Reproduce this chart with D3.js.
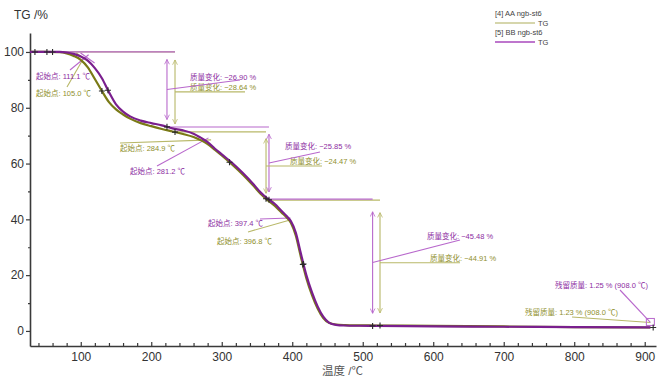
<!DOCTYPE html>
<html><head><meta charset="utf-8">
<script src="https://cdn.jsdelivr.net/npm/d3@7"></script>
<style>
body{margin:0;background:#fff}
svg{display:block}
text{font-family:"Liberation Sans",Arial,"Noto Sans CJK SC",sans-serif}
</style>
</head><body>
<svg id="chart" width="664" height="379"></svg>
<script>
// ---------------- data ----------------
const temperature = [28,50,70,80,90,100,110,120,130,140,150,160,170,185,200,215,230,245,260,270,280,290,300,315,330,345,355,365,375,385,392,398,405,412,420,428,436,444,452,462,475,495,520,600,700,800,908];
const tgAA = [100,100,99.9,99.5,98.6,97.2,94.5,90.3,86.0,82.0,79.4,77.6,76.1,74.5,73.4,72.4,71.5,70.6,69.5,68.4,67.0,65.0,62.9,59.6,56.0,52.0,49.2,46.9,44.9,42.4,40.7,38.8,34.2,26.8,18.9,12.8,8.0,4.6,2.9,2.3,2.1,2.0,1.95,1.8,1.6,1.4,1.23];
const tgBB = [100,100,100,99.8,99.3,98.4,96.9,94.2,90.6,85.6,81.2,78.6,76.9,75.4,74.5,73.7,72.6,71.9,70.7,69.3,67.7,65.4,63.3,60.2,56.6,52.6,49.7,47.4,45.6,43.0,41.2,39.4,35.3,28.0,20.0,13.8,8.8,5.1,3.0,2.2,1.95,1.85,1.8,1.65,1.5,1.4,1.25];
const seriesNames = ["[4] AA ngb-st6", "[5] BB ngb-st6"];
const seriesSignal = "TG";
const xTicks = [100,200,300,400,500,600,700,800,900];
const xMinorTicks = d3.range(40, 916, 20);
const yTicks = [0,20,40,60,80,100];
const yMinorTicks = [10,30,50,70,90];
const xTitle = "温度 /℃";
const yTitle = "TG /%";
// mass-change steps
const massChangeAA = [-28.64, -24.47, -44.91];
const massChangeBB = [-26.90, -25.85, -45.48];
const stepTempAA = [233.7, 362.8, 524.5];
const stepTempBB = [222.3, 367.0, 514.0];
// onsets
const onsetAA = [105.0, 284.9, 396.8];
const onsetBB = [111.1, 281.2, 397.4];
const onsetEndAA = [98.2, 68.5, 39.8];
const onsetEndBB = [99.0, 69.2, 40.5];
// residual
const residualAA = 1.23, residualBB = 1.25, residualT = 908.0;
// cross markers on curves (temperatures)
const markersAA = [52, 130, 233.7, 311, 362.8, 415, 524.5];
const markersBB = [35, 60, 138.6, 222.3, 367, 416, 514, 912];

// ---------------- styles / layout ----------------
const C = {
  aaCurve:"#7a7a16", bbCurve:"#7a1f8e",
  aaLine:"#b8b868", bbLine:"#b868cc",
  aaText:"#8f8f2c", bbText:"#8d2d9f",
  axis:"#3a3a3a"
};
const svg = d3.select("#chart");
const x = d3.scaleLinear().domain([28, 916]).range([30, 656]);
const y = d3.scaleLinear().domain([-5.4, 106.8]).range([346, 33]);

// ---------------- axes ----------------
svg.append("g").attr("transform","translate(30,0)")
  .call(d3.axisLeft(y).tickValues(yTicks).tickSize(4).tickSizeOuter(0).tickPadding(2).tickFormat(d3.format("d")));
svg.append("g").attr("transform","translate(30,0)")
  .call(d3.axisLeft(y).tickValues(yMinorTicks).tickSize(2).tickFormat(""))
  .call(g=>g.select(".domain").remove());
svg.append("g").attr("transform","translate(0,346)")
  .call(d3.axisBottom(x).tickValues(xTicks).tickSize(-4).tickSizeOuter(0).tickPadding(6).tickFormat(d3.format("d")));
svg.append("g").attr("transform","translate(0,346)")
  .call(d3.axisBottom(x).tickValues(xMinorTicks.filter(t=>t%100!==0)).tickSize(-3).tickFormat(""))
  .call(g=>g.select(".domain").remove());
svg.selectAll(".domain").attr("stroke",C.axis).attr("stroke-width",1.6);
svg.selectAll(".tick line").attr("stroke",C.axis).attr("stroke-width",1.2);
svg.selectAll(".tick text").attr("font-size",12).attr("fill","#333");

svg.append("text").attr("x",14).attr("y",19).attr("font-size",12).attr("fill","#333").text(yTitle);
svg.append("text").attr("x",322).attr("y",375).attr("font-size",11.5).attr("fill","#555").text(xTitle);

// ---------------- arrow markers ----------------
const defs = svg.append("defs");
[["aa",C.aaLine],["bb",C.bbLine]].forEach(([k,col])=>{
  defs.append("marker").attr("id","arr-"+k).attr("viewBox","0 0 10 10").attr("refX",9).attr("refY",5)
    .attr("markerWidth",6).attr("markerHeight",6).attr("orient","auto-start-reverse").attr("markerUnits","userSpaceOnUse")
    .append("path").attr("d","M1,1 L9,5 L1,9").attr("fill","none").attr("stroke",col).attr("stroke-width",1.3);
});

// ---------------- helpers ----------------
const interp = (arr, T) => {
  const i = d3.bisectLeft(temperature, T);
  if (i <= 0) return arr[0];
  if (i >= temperature.length) return arr[arr.length-1];
  const t0 = temperature[i-1], t1 = temperature[i];
  return arr[i-1] + (arr[i]-arr[i-1])*(T-t0)/(t1-t0);
};
const line = d3.line().x(d=>x(d[0])).y(d=>y(d[1])).curve(d3.curveMonotoneX);
const ann = svg.append("g");

function levels(changes){ const l=[100]; changes.forEach(c=>l.push(+(l[l.length-1]+c).toFixed(2))); return l; }
const levelsAA = levels(massChangeAA), levelsBB = levels(massChangeBB);

function drawLevels(levelsArr, stepT, col, endFirst){
  levelsArr.slice(0,3).forEach((lv,i)=>{
    const t0 = i===0 ? 28 : stepT[i-1];
    const t1 = (i===0 && endFirst) ? Math.max(endFirst, stepT[0]) : stepT[i];
    ann.append("line").attr("x1",x(t0)).attr("x2",x(t1)).attr("y1",y(lv)).attr("y2",y(lv))
      .attr("stroke",col).attr("stroke-width",1.2);
  });
}
function drawArrows(levelsArr, stepT, k, col){
  stepT.forEach((t,i)=>{
    const y0 = y(levelsArr[i]), y1 = y(levelsArr[i+1]);
    const inset = (y1-y0)*0.1;
    ann.append("line").attr("x1",x(t)).attr("x2",x(t)).attr("y1",y0+inset).attr("y2",y1-inset)
      .attr("stroke",col).attr("stroke-width",1.1)
      .attr("marker-start",`url(#arr-${k})`).attr("marker-end",`url(#arr-${k})`);
  });
}
drawLevels(levelsAA, stepTempAA, C.aaLine);
drawLevels(levelsBB, stepTempBB, C.bbLine, stepTempAA[0]);
drawArrows(levelsAA, stepTempAA, "aa", C.aaLine);
drawArrows(levelsBB, stepTempBB, "bb", C.bbLine);

// mass change labels
const fmt2 = d3.format(".2f");
const aaLabelLayout = [{tx:190, under:245},{tx:290, under:322},{tx:430, under:460}];
const bbLabelLayout = [{tx:190, cy:77, ex:240, ey:80},{tx:285, cy:146, ex:320, ey:152},{tx:427, cy:236, ex:460, ey:240}];
massChangeAA.forEach((m,i)=>{
  const mid = (y(levelsAA[i])+y(levelsAA[i+1]))/2;
  const L = aaLabelLayout[i];
  ann.append("line").attr("x1",x(stepTempAA[i])).attr("x2",L.under).attr("y1",mid).attr("y2",mid).attr("stroke",C.aaLine).attr("stroke-width",1.1);
  ann.append("text").attr("x",L.tx).attr("y",mid-1.5).attr("font-size",7.5).attr("fill",C.aaText)
    .text(`质量变化: ${fmt2(m)} %`);
});
massChangeBB.forEach((m,i)=>{
  const mid = (y(levelsBB[i])+y(levelsBB[i+1]))/2;
  const L = bbLabelLayout[i];
  ann.append("line").attr("x1",x(stepTempBB[i])).attr("x2",L.ex).attr("y1",mid).attr("y2",L.ey).attr("stroke",C.bbLine).attr("stroke-width",1.1);
  ann.append("text").attr("x",L.tx).attr("y",L.cy+2.7).attr("font-size",7.5).attr("fill",C.bbText)
    .text(`质量变化: ${fmt2(m)} %`);
});

// onset labels
const fmt1 = d3.format(".1f");
const aaOnsetLayout = [{tx:36, cy:93, sx:67, sy:87},{tx:120, cy:148, sx:120, sy:143},{tx:217, cy:241, sx:248, sy:232}];
const bbOnsetLayout = [{tx:36, cy:76, sx:70, sy:70},{tx:130, cy:171, sx:157, sy:166},{tx:208, cy:223, sx:260, sy:219}];
function drawOnsets(onsets, ends, layout, lineCol, textCol){
  onsets.forEach((t,i)=>{
    const L = layout[i];
    ann.append("line").attr("x1",L.sx).attr("y1",L.sy).attr("x2",x(t)).attr("y2",y(ends[i]))
      .attr("stroke",lineCol).attr("stroke-width",1.1);
    ann.append("text").attr("x",L.tx).attr("y",L.cy+2.7).attr("font-size",7.5).attr("fill",textCol)
      .text(`起始点: ${fmt1(t)} ℃`);
  });
}
drawOnsets(onsetAA, onsetEndAA, aaOnsetLayout, C.aaLine, C.aaText);
drawOnsets(onsetBB, onsetEndBB, bbOnsetLayout, C.bbLine, C.bbText);
[[onsetAA[0], C.aaLine],[onsetBB[0], C.bbLine]].forEach(([t,col])=>{
  ann.append("line").attr("x1",x(t)-8).attr("y1",y(100)+1).attr("x2",x(t)+6).attr("y2",y(100)+11)
    .attr("stroke",col).attr("stroke-width",1.1);
});

// residual labels
const resLayout = [
  {v:residualAA, tx:525, cy:312, sx:572, sy:317, col:C.aaLine, tc:C.aaText},
  {v:residualBB, tx:555, cy:285, sx:620, sy:290, col:C.bbLine, tc:C.bbText}
];
resLayout.forEach(r=>{
  ann.append("line").attr("x1",r.sx).attr("y1",r.sy).attr("x2",x(residualT)).attr("y2",y(r.v)-5)
    .attr("stroke",r.col).attr("stroke-width",1.1);
  ann.append("text").attr("x",r.tx).attr("y",r.cy+2.7).attr("font-size",7.5).attr("fill",r.tc)
    .text(`残留质量: ${fmt2(r.v)} % (${fmt1(residualT)} ℃)`);
});
ann.append("rect").attr("x",x(residualT)-4).attr("y",y(residualBB)-9).attr("width",8).attr("height",7)
  .attr("fill","none").attr("stroke",C.bbLine).attr("stroke-width",1);

// curves
svg.append("path").datum(temperature.map((t,i)=>[t,tgAA[i]])).attr("d",line)
  .attr("fill","none").attr("stroke",C.aaCurve).attr("stroke-width",2.2);
svg.append("path").datum(temperature.map((t,i)=>[t,tgBB[i]])).attr("d",line)
  .attr("fill","none").attr("stroke",C.bbCurve).attr("stroke-width",2.2);

// cross markers
function crosses(arr, temps){
  temps.forEach(t=>{
    const cx = x(t), cy = y(interp(arr, Math.min(t,908)));
    svg.append("path").attr("d",`M${cx-3},${cy}H${cx+3}M${cx},${cy-3}V${cy+3}`)
      .attr("stroke","#2a2a2a").attr("stroke-width",1.1);
  });
}
crosses(tgAA, markersAA);
crosses(tgBB, markersBB);

// ---------------- legend ----------------
const lg = svg.append("g");
seriesNames.forEach((n,i)=>{
  const yy = 16 + i*19;
  lg.append("text").attr("x",495).attr("y",yy).attr("font-size",7.5).attr("fill","#444").text(n);
  lg.append("line").attr("x1",495).attr("x2",535).attr("y1",yy+7).attr("y2",yy+7)
    .attr("stroke", i===0 ? "#c8c890" : "#a848bc").attr("stroke-width",1.3);
  lg.append("text").attr("x",538).attr("y",yy+10).attr("font-size",7.5).attr("fill","#444").text(seriesSignal);
});
</script>
</body></html>
